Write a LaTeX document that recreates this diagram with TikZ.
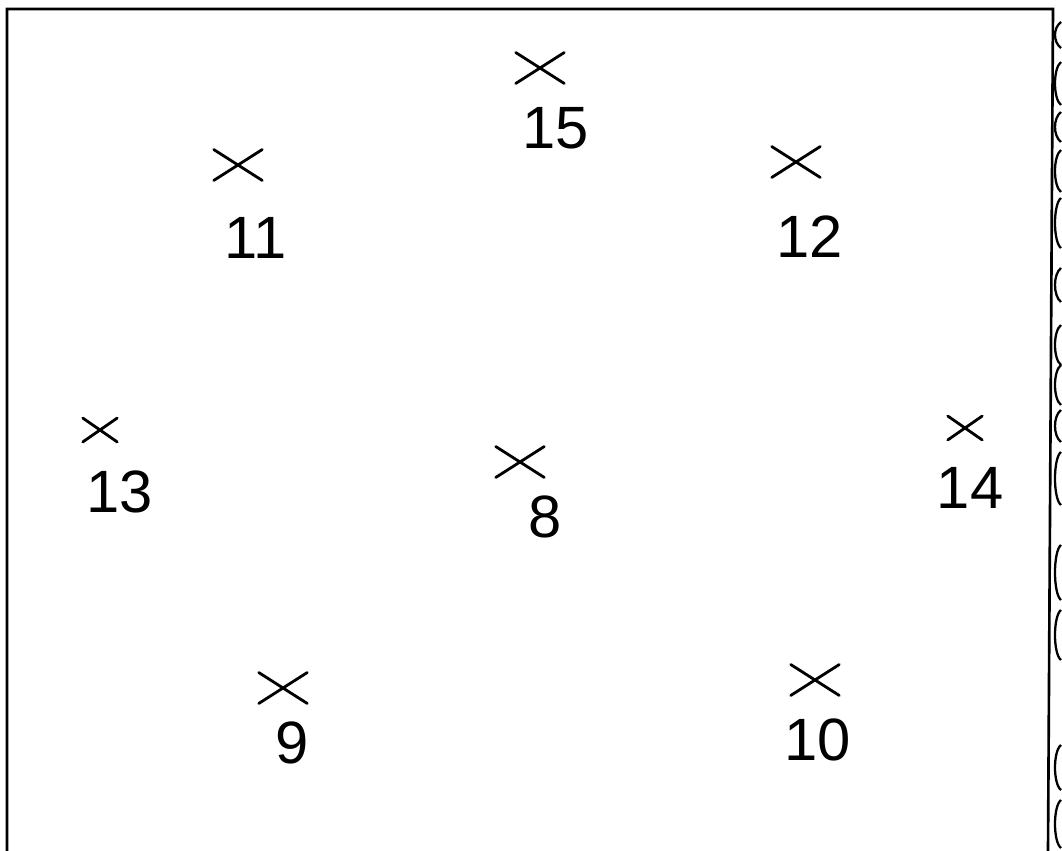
\documentclass[tikz,border=0pt]{standalone}
\usepackage{fontspec}
\setsansfont{Liberation Sans}
\usetikzlibrary{shapes.misc, positioning}
\tikzset{
    crossmark/.style={
        cross out, draw=black, line width=1.6pt, line cap=round,
        minimum width=26, minimum height=16, inner sep=0pt
    },
    crossmark_small/.style={
        crossmark, minimum width=18, minimum height=12
    },
    numlbl/.style={
        font=\sffamily\fontsize{34}{34}\selectfont, text=black, inner sep=0pt
    },
    frame_line/.style={
        draw=black, line width=1.5pt
    },
    wave_line/.style={
        draw=black, line width=1.3pt
    }
}
\begin{document}
\begin{tikzpicture}[x={(0.02cm,0)}, y={(0,-0.02cm)}]
    \useasboundingbox (0,0) rectangle (1062,851);
    \fill[white] (0,0) rectangle (1062,851);

    % frame, open at the bottom
    \draw[frame_line] (7,851) -- (7,9) -- (1053,9) -- (1048,851);

    % crosses
    \node[crossmark] (c15) at (540,68) {};
    \node[crossmark] (c11) at (238,165) {};
    \node[crossmark] (c12) at (796,162) {};
    \node[crossmark_small] (c13) at (100,430) {};
    \node[crossmark] (c8) at (520,462) {};
    \node[crossmark_small] (c14) at (965,428) {};
    \node[crossmark] (c9) at (283,688) {};
    \node[crossmark] (c10) at (815,680) {};

    % numbers
    \node[numlbl] (n15) at (556,128) {15};
    \node[numlbl] (n11) at (256,238) {11};
    \node[numlbl] (n12) at (810,237) {12};
    \node[numlbl] (n13) at (120,492) {13};
    \node[numlbl] (n8) at (545,517) {8};
    \node[numlbl] (n14) at (970,488) {14};
    \node[numlbl] (n9) at (292,743) {9};
    \node[numlbl] (n10) at (818,740) {10};

    % wavy strip on the right
    \foreach \a/\b in {22/48, 62/105, 112/142, 150/192, 198/248, 268/302, 325/365, 365/405, 410/442, 452/505, 545/600, 610/660, 745/790, 800/848}
        \draw[wave_line] (1061,\a) .. controls (1053,\a+6) and (1053,\b-6) .. (1061,\b);
\end{tikzpicture}
\end{document}
